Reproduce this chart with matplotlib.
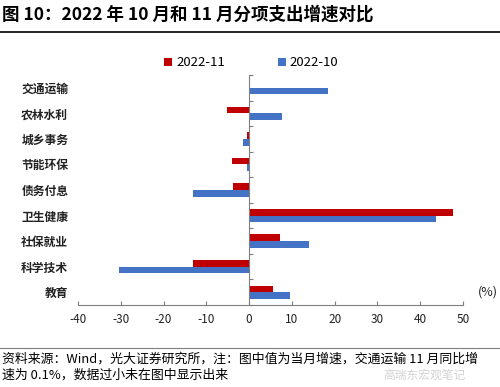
import matplotlib.pyplot as plt
import numpy as np
import matplotlib

matplotlib.rcParams['font.family'] = ['Noto Sans CJK SC', 'DejaVu Sans']
matplotlib.rcParams['axes.unicode_minus'] = False

# 数据（自上而下）
categories = ['交通运输', '农林水利', '城乡事务', '节能环保', '债务付息', '卫生健康', '社保就业', '科学技术', '教育']
nov_2022 = [0.1, -5.2, -0.6, -3.9, -3.7, 47.6, 7.3, -13.2, 5.7]
oct_2022 = [18.5, 7.6, -1.5, -0.6, -13.2, 43.8, 14.1, -30.5, 9.6]
x_ticks = [-40, -30, -20, -10, 0, 10, 20, 30, 40, 50]

RED = '#C00000'
BLUE = '#4472C4'
GRAY = '#7f7f7f'

fig = plt.figure(figsize=(5, 3.87), dpi=100)
ax = fig.add_axes([0.156, 0.212, 0.77, 0.594])

y = np.arange(len(categories))
h = 0.26
ax.barh(y - h / 2, nov_2022, height=h, color=RED, label='2022-11')
ax.barh(y + h / 2, oct_2022, height=h, color=BLUE, label='2022-10')

ax.set_xlim(-40, 50)
ax.set_ylim(len(categories) - 0.5, -0.5)
ax.set_xticks(x_ticks)
ax.tick_params(axis='x', direction='in', length=3, colors=GRAY, labelcolor='#222222',
               labelsize=8.5, pad=6)

# 纵轴在 0 处，刻度在类别分界处
ax.spines['left'].set_position(('data', 0))
ax.spines['left'].set_color(GRAY)
ax.spines['bottom'].set_color(GRAY)
ax.spines['top'].set_visible(False)
ax.spines['right'].set_visible(False)
ax.set_yticks(np.arange(len(categories) + 1) - 0.5)
ax.set_yticklabels([])
ax.tick_params(axis='y', direction='in', length=3, colors=GRAY)

sec = ax.secondary_yaxis(0)
sec.set_yticks(y)
sec.set_yticklabels(categories, fontsize=8.5, fontweight='bold', color='#222222')
sec.tick_params(length=0, pad=7)
sec.spines['left'].set_visible(False)

ax.text(1.065, 0.055, '(%)', transform=ax.transAxes, ha='center', va='center',
        fontsize=9, color='#222222')

leg = ax.legend(loc='lower center', bbox_to_anchor=(0.45, 0.99), ncol=2, frameon=False,
                fontsize=9.5, handlelength=0.6, handleheight=0.6, handletextpad=0.3,
                columnspacing=4.0, borderaxespad=0.2)

fig.text(0.004, 0.962, '图 10：2022 年 10 月和 11 月分项支出增速对比', fontsize=12.6,
         fontweight='bold', va='center', ha='left')
fig.add_artist(plt.Line2D([0, 1], [0.917, 0.917], color='black', lw=1.2,
                          transform=fig.transFigure))
fig.add_artist(plt.Line2D([0, 1], [0.101, 0.101], color=GRAY, lw=0.8,
                          transform=fig.transFigure))
fig.text(0.004, 0.073, '资料来源：Wind，光大证券研究所，注：图中值为当月增速，交通运输 11 月同比增',
         fontsize=9.3, va='center', ha='left')
fig.text(0.004, 0.030, '速为 0.1%，数据过小未在图中显示出来',
         fontsize=9.3, va='center', ha='left')
fig.text(0.93, 0.030, '高瑞东宏观笔记', fontsize=8.5, color='#c8c8c8', alpha=0.8,
         va='center', ha='right')

fig.savefig('out.png', dpi=100)
